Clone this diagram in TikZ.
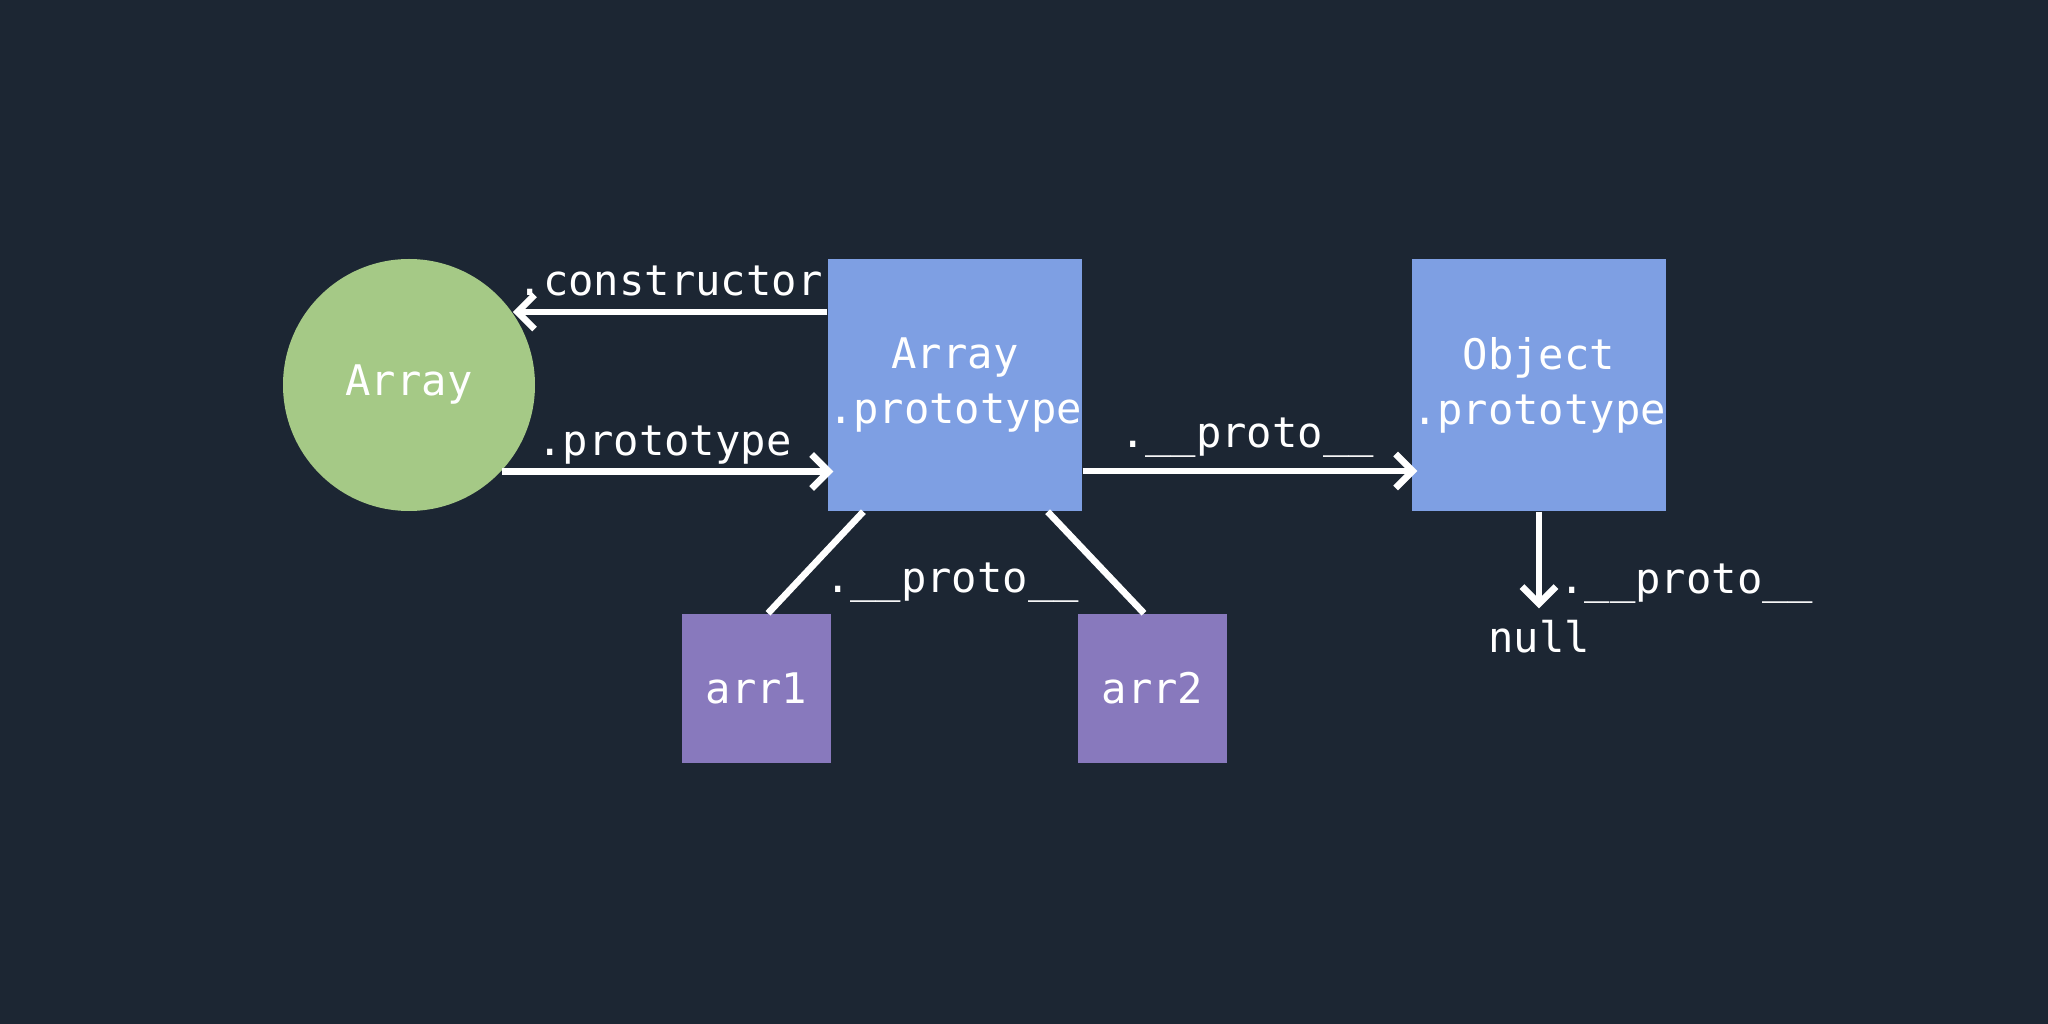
\documentclass[tikz,border=0pt]{standalone}
\usepackage{fontspec}
\setmonofont{DejaVu Sans Mono}
\usetikzlibrary{arrows.meta,positioning}
\definecolor{bgnavy}{HTML}{1C2633}
\definecolor{ctorgreen}{HTML}{A5C986}
\definecolor{protoblue}{HTML}{7E9FE3}
\definecolor{instpurple}{HTML}{8879BD}
\tikzset{
  protobox/.style={fill=protoblue, minimum size=2.52cm, inner sep=0pt, align=center},
  instbox/.style={fill=instpurple, minimum size=1.49cm, inner sep=0pt},
  link/.style={white, line width=1.9pt},
  lbl/.style={anchor=base, inner sep=0pt},
}
\begin{document}
\begin{tikzpicture}[font=\ttfamily\fontsize{12}{15.6}\selectfont, text=white,
  >={Straight Barb[length=1.7mm, width=3.4mm]}]
\fill[bgnavy] (0,0) rectangle (20.48,10.24);

\node[circle, fill=ctorgreen, minimum size=2.52cm, inner sep=0pt] (array) at (4.09,6.39) {Array};
\node[protobox] (arrproto) at (9.55,6.39) {Array\\.prototype};
\node[protobox] (objproto) at (15.39,6.39) {Object\\.prototype};
\node[instbox] (arr1) at (7.565,3.355) {arr1};
\node[instbox] (arr2) at (11.525,3.355) {arr2};
\node[anchor=base] (null) at (15.39,3.71) {null};

\draw[link, ->] ([yshift=0.73cm]arrproto.west) coordinate (ctorstart) -- (array.35.41 |- ctorstart)
  node[midway, lbl, yshift=0.165cm] {.constructor};
\draw[link, ->, shorten >=-0.06cm] (array.-43.04) coordinate (protostart) -- (arrproto.west |- protostart)
  node[midway, lbl, yshift=0.16cm] {.prototype};
\draw[link, ->, shorten >=-0.06cm] ([yshift=-0.86cm]arrproto.east) -- ([yshift=-0.86cm]objproto.west)
  node[midway, lbl, yshift=0.23cm] {.\_\_proto\_\_};
\draw[link, ->] (objproto) -- (null)
  node[pos=0.85, lbl, anchor=base west, xshift=0.17cm] {.\_\_proto\_\_};

\draw[link] ([xshift=0.36cm]arrproto.south west) -- ([xshift=0.115cm]arr1.north);
\draw[link] ([xshift=-0.35cm]arrproto.south east) -- ([xshift=-0.085cm]arr2.north);
\node[lbl] (sharedlbl) at (9.52,4.31) {.\_\_proto\_\_};
\end{tikzpicture}
\end{document}
